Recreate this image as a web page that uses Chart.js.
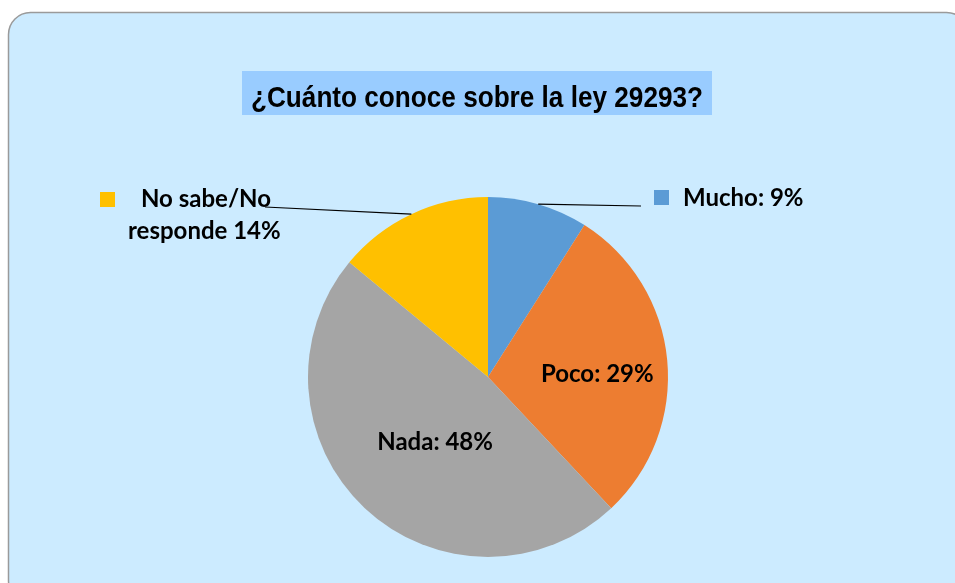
<!DOCTYPE html>
<html>
<head>
<meta charset="utf-8">
<script src="https://cdn.jsdelivr.net/npm/chart.js@4"></script>
<style>
  html, body { margin: 0; padding: 0; background: #fff; }
  #wrap { width: 955px; height: 583px; position: relative; }
</style>
</head>
<body>
<div id="wrap"><canvas id="chart" width="955" height="583"></canvas></div>
<script>
const categories = ['Mucho', 'Poco', 'Nada', 'No sabe/No responde'];
const values = [9, 29, 48, 14];
const colors = ['#5B9BD5', '#ED7D31', '#A5A5A5', '#FFC000'];
const title = '¿Cuánto conoce sobre la ley 29293?';

const labelFont = 'bold 24px Lato, "Open Sans", sans-serif';

// draw text squeezed to a given width
function fitText(ctx, text, x, y, width) {
    let w = ctx.measureText(text).width;
    let s = Math.min(1, width / w);
    ctx.save();
    ctx.translate(x, y);
    ctx.scale(s, 1);
    ctx.fillText(text, 0, 0);
    ctx.restore();
}

const backgroundPlugin = {
    id: 'panel',
    beforeDraw(chart) {
        const ctx = chart.ctx;
        ctx.save();
        ctx.fillStyle = '#fff';
        ctx.fillRect(0, 0, chart.width, chart.height);
        ctx.beginPath();
        ctx.roundRect(8.5, 12.5, 960, 590, 22);
        ctx.fillStyle = '#CCEBFF';
        ctx.fill();
        ctx.strokeStyle = '#9a9a9a';
        ctx.lineWidth = 1.5;
        ctx.stroke();

        // title box
        ctx.fillStyle = '#99CCFF';
        ctx.fillRect(242, 71, 470, 44);
        ctx.fillStyle = '#000';
        ctx.font = 'bold 30px "Liberation Sans", Arial, sans-serif';
        ctx.textBaseline = 'alphabetic';
        fitText(ctx, title, 251, 107, 452);
        ctx.restore();
    }
};

const labelPlugin = {
    id: 'labels',
    afterDatasetsDraw(chart) {
        const ctx = chart.ctx;
        const arcs = chart.getDatasetMeta(0).data;
        const total = values.reduce((a, b) => a + b, 0);
        const pct = values.map(v => Math.round(v / total * 100) + '%');

        function edgePoint(arc) {
            const mid = (arc.startAngle + arc.endAngle) / 2;
            return { x: arc.x + Math.cos(mid) * arc.outerRadius, y: arc.y + Math.sin(mid) * arc.outerRadius };
        }
        function innerPoint(arc, f) {
            const mid = (arc.startAngle + arc.endAngle) / 2;
            return { x: arc.x + Math.cos(mid) * arc.outerRadius * f, y: arc.y + Math.sin(mid) * arc.outerRadius * f };
        }

        ctx.save();
        ctx.font = labelFont;
        ctx.fillStyle = '#000';
        ctx.textBaseline = 'alphabetic';

        // leader lines
        ctx.strokeStyle = '#000';
        ctx.lineWidth = 1.2;
        let p = edgePoint(arcs[0]);
        ctx.beginPath();
        ctx.moveTo(p.x, p.y);
        ctx.lineTo(641, 206);
        ctx.stroke();
        p = edgePoint(arcs[3]);
        ctx.beginPath();
        ctx.moveTo(p.x, p.y);
        ctx.lineTo(265, 207);
        ctx.stroke();

        // Mucho label with key
        ctx.fillStyle = colors[0];
        ctx.fillRect(654, 190, 15, 15);
        ctx.fillStyle = '#000';
        ctx.textAlign = 'left';
        fitText(ctx, categories[0] + ': ' + pct[0], 683, 206, 122);

        // No sabe label with key
        ctx.fillStyle = colors[3];
        ctx.fillRect(100, 192, 15, 15);
        ctx.fillStyle = '#000';
        fitText(ctx, 'No sabe/No', 141, 207, 131);
        fitText(ctx, 'responde ' + pct[3], 128, 239, 155);

        // inside labels
        ctx.textAlign = 'center';
        p = innerPoint(arcs[1], 0.61);
        ctx.fillText(categories[1] + ': ' + pct[1], p.x, p.y + 15);
        p = innerPoint(arcs[2], 0.47);
        ctx.fillText(categories[2] + ': ' + pct[2], p.x + 5, p.y + 11);
        ctx.restore();
    }
};

new Chart(document.getElementById('chart'), {
    type: 'pie',
    data: {
        labels: categories,
        datasets: [{
            data: values,
            backgroundColor: colors,
            borderWidth: 0
        }]
    },
    options: {
        responsive: false,
        animation: false,
        layout: { padding: { top: 197, bottom: 26, left: 308, right: 287 } },
        plugins: {
            legend: { display: false },
            title: { display: false },
            tooltip: { enabled: false }
        }
    },
    plugins: [backgroundPlugin, labelPlugin]
});
</script>
</body>
</html>
